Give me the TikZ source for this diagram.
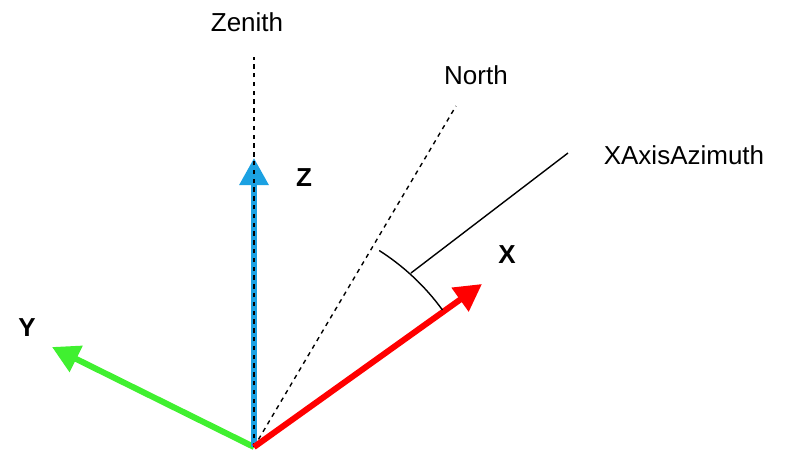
\documentclass[tikz,border=0pt]{standalone}
\usepackage{fontspec}
\setmainfont{Liberation Sans}
\usepackage{tikz}
\usepackage{xcolor}
\usetikzlibrary{arrows.meta}
\definecolor{FontColor}{HTML}{000000}
\definecolor{ZBlue}{HTML}{1BA1E2}
\definecolor{XRed}{HTML}{FF0000}
\definecolor{YGreen}{HTML}{40F030}
\newcommand\nodezen{Zenith}
\newcommand\nodenorth{North}
\newcommand\nodeazm{XAxisAzimuth}
\newcommand\nodez{Z}
\newcommand\nodex{X}
\newcommand\nodey{Y}
\tikzstyle{mylabelstyle} = [inner sep=0pt, text=FontColor, font=\fontsize{13}{15.6}\selectfont]
\tikzstyle{axl} = [mylabelstyle, font=\fontsize{13}{15.6}\selectfont\bfseries]
\tikzstyle{axis} = [line width=3pt, -{Triangle[width=14pt, length=13.5pt]}]
\tikzstyle{guide} = [line width=0.7pt, dash pattern=on 2.2pt off 2.2pt]
\tikzset{x=0.5pt, y=0.5pt}

\begin{document}
\begin{tikzpicture}
\useasboundingbox (0, 0) rectangle (800, 452);
\coordinate (o) at (254, 5);
\coordinate (zen) at (254, 395);
\coordinate (zt) at (254, 294);
\coordinate (nt) at (456, 346);
\coordinate (xt) at (482, 168);
\coordinate (yt) at (52, 105);
\coordinate (azm) at (411, 179);
\coordinate (azmend) at (568, 299);
\node[mylabelstyle] (zenl) at (247, 430) {\nodezen};
\node[mylabelstyle] (northl) at (476, 377) {\nodenorth};
\node[mylabelstyle] (azml) at (684, 297) {\nodeazm};
\node[axl] (zl) at (304, 274) {\nodez};
\node[axl] (xl) at (507, 197) {\nodex};
\node[axl] (yl) at (27, 124) {\nodey};
\draw [axis, YGreen] (o) -- (yt);
\draw [axis, ZBlue] (o) -- (zt);
\draw [guide] (o) -- (zen);
\draw [guide] (o) -- (nt);
\draw [axis, XRed] (o) -- (xt);
\draw [line width=0.7pt] ([shift={(36:233)}]o) arc [start angle=36, end angle=57.5, radius=233];
\draw [line width=0.7pt] (azm) -- (azmend);
\end{tikzpicture}
\end{document}
